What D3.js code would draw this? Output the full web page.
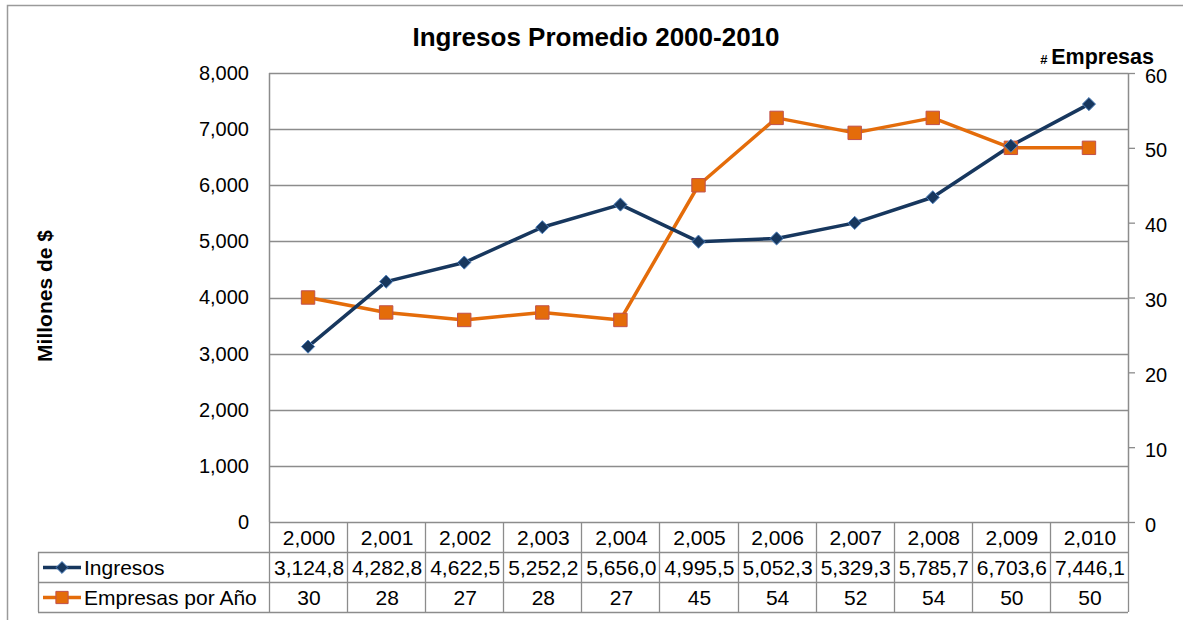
<!DOCTYPE html>
<html>
<head>
<meta charset="utf-8">
<script src="https://cdn.jsdelivr.net/npm/d3@7"></script>
<style>
  body { margin: 0; background: #fff; }
  text { font-family: "Liberation Sans", Arial, sans-serif; fill: #000; }
</style>
</head>
<body>
<div id="chart"></div>
<script>
// data
var years = ["2,000", "2,001", "2,002", "2,003", "2,004", "2,005", "2,006", "2,007", "2,008", "2,009", "2,010"];
var ingresos = [3124.8, 4282.8, 4622.5, 5252.2, 5656.0, 4995.5, 5052.3, 5329.3, 5785.7, 6703.6, 7446.1];
var ingresosLabels = ["3,124,8", "4,282,8", "4,622,5", "5,252,2", "5,656,0", "4,995,5", "5,052,3", "5,329,3", "5,785,7", "6,703,6", "7,446,1"];
var empresas = [30, 28, 27, 28, 27, 45, 54, 52, 54, 50, 50];
var leftTicks = [0, 1000, 2000, 3000, 4000, 5000, 6000, 7000, 8000];
var rightTicks = [0, 10, 20, 30, 40, 50, 60];

var svgWidth = 1183;
var svgHeight = 620;

var margin = { top: 73, right: 55, bottom: 98, left: 269 };
var width = svgWidth - margin.left - margin.right;   // 859
var height = svgHeight - margin.top - margin.bottom; // 449
var rowH = 30;
var gridColor = "#8c8c8c";
var navy = "#17375e";
var orange = "#e46c0a";
var fontSize = "21px";

var svg = d3.select("#chart")
  .append("svg")
  .attr("width", svgWidth)
  .attr("height", svgHeight);

// outer chart frame (runs off the page to the right / bottom)
svg.append("rect")
  .attr("x", 7.5).attr("y", 5.5)
  .attr("width", 1300).attr("height", 800)
  .attr("fill", "none")
  .attr("stroke", "#9a9a9a")
  .attr("stroke-width", 1.5);

var chartGroup = svg.append("g")
  .attr("transform", `translate(${margin.left}, ${margin.top})`);

// scales
var xBand = d3.scaleBand().domain(years).range([0, width]);
var yLeft = d3.scaleLinear().domain([0, 8000]).range([height, 0]);
var yRight = d3.scaleLinear().domain([0, 60]).range([height, 0]);
var xc = (d, i) => xBand(years[i]) + xBand.bandwidth() / 2;

// gridlines
chartGroup.append("g")
  .selectAll("line")
  .data(leftTicks)
  .enter()
  .append("line")
  .attr("x1", 0).attr("x2", width)
  .attr("y1", d => Math.round(yLeft(d)) + 0.5)
  .attr("y2", d => Math.round(yLeft(d)) + 0.5)
  .attr("stroke", gridColor)
  .attr("stroke-width", 1.3);

// left axis: labels only + axis line
var leftAxis = d3.axisLeft(yLeft)
  .tickValues(leftTicks)
  .tickFormat(d3.format(","))
  .tickSize(0)
  .tickPadding(20);
var gl = chartGroup.append("g").call(leftAxis);
gl.select(".domain").remove();
gl.selectAll("text")
  .style("font-size", "20px")
  .style("font-family", "Liberation Sans, Arial, sans-serif");

chartGroup.append("line")
  .attr("x1", 0.5).attr("x2", 0.5)
  .attr("y1", 0).attr("y2", height)
  .attr("stroke", gridColor).attr("stroke-width", 1.5);

// right axis with outer ticks
var rightAxis = d3.axisRight(yRight)
  .tickValues(rightTicks)
  .tickSize(7)
  .tickPadding(10);
var gr = chartGroup.append("g")
  .attr("transform", `translate(${width}, 0)`)
  .call(rightAxis);
gr.select(".domain").attr("stroke", gridColor).attr("stroke-width", 1.5).attr("d", `M0.5,0V${height}`);
gr.selectAll(".tick line").attr("stroke", gridColor).attr("stroke-width", 1.3);
gr.selectAll("text")
  .style("font-size", "20px")
  .style("font-family", "Liberation Sans, Arial, sans-serif")
  .attr("dy", "0.45em");

// data table below the plot
var table = chartGroup.append("g").attr("transform", `translate(0, ${height})`);
var legendLeft = 38 - margin.left;

// horizontal rules
[rowH, rowH * 2, rowH * 3].forEach(function(y) {
  table.append("line")
    .attr("x1", legendLeft).attr("x2", width)
    .attr("y1", y + 0.5).attr("y2", y + 0.5)
    .attr("stroke", gridColor).attr("stroke-width", 1.3);
});
// vertical rules
var colEdges = years.map(d => xBand(d)).concat([width]);
table.selectAll(".vrule")
  .data(colEdges)
  .enter()
  .append("line")
  .attr("x1", d => Math.round(d) + 0.5).attr("x2", d => Math.round(d) + 0.5)
  .attr("y1", 0).attr("y2", rowH * 3)
  .attr("stroke", gridColor).attr("stroke-width", 1.3);
table.append("line")
  .attr("x1", legendLeft + 0.5).attr("x2", legendLeft + 0.5)
  .attr("y1", rowH).attr("y2", rowH * 3)
  .attr("stroke", gridColor).attr("stroke-width", 1.3);

var rows = [years, ingresosLabels, empresas];
rows.forEach(function(row, r) {
  table.selectAll(".row" + r)
    .data(row)
    .enter()
    .append("text")
    .attr("x", (d, i) => xc(d, i) + 1)
    .attr("y", rowH * r + rowH / 2 + 1)
    .attr("dy", "0.35em")
    .attr("text-anchor", "middle")
    .style("font-size", fontSize)
    .text(d => d);
});

// legend keys
var keyX = legendLeft + 5;
var series = [
  { name: "Ingresos", color: navy, shape: d3.symbolDiamond2, fill: navy, stroke: "#4f81bd" },
  { name: "Empresas por Año", color: orange, shape: d3.symbolSquare, fill: orange, stroke: "#c0504d" }
];
series.forEach(function(s, i) {
  var cy = rowH * (i + 1) + rowH / 2 + 0.5;
  table.append("line")
    .attr("x1", keyX).attr("x2", keyX + 38)
    .attr("y1", cy).attr("y2", cy)
    .attr("stroke", s.color).attr("stroke-width", 3.5);
  table.append("path")
    .attr("d", d3.symbol().type(s.shape).size(i === 0 ? 90 : 150)())
    .attr("transform", `translate(${keyX + 19}, ${cy})`)
    .attr("fill", s.fill).attr("stroke", s.stroke).attr("stroke-width", 1);
  table.append("text")
    .attr("x", keyX + 41)
    .attr("y", cy)
    .attr("dy", "0.35em")
    .style("font-size", fontSize)
    .text(s.name);
});

// lines
var ingresosLine = d3.line()
  .x((d, i) => xc(d, i))
  .y(d => yLeft(d));
var empresasLine = d3.line()
  .x((d, i) => xc(d, i))
  .y(d => yRight(d));

chartGroup.append("path")
  .datum(empresas)
  .attr("d", empresasLine)
  .attr("fill", "none")
  .attr("stroke", orange)
  .attr("stroke-width", 3.5)
  .attr("stroke-linejoin", "round");

chartGroup.append("path")
  .datum(ingresos)
  .attr("d", ingresosLine)
  .attr("fill", "none")
  .attr("stroke", navy)
  .attr("stroke-width", 3.5)
  .attr("stroke-linejoin", "round");

// markers
chartGroup.selectAll(".sq")
  .data(empresas)
  .enter()
  .append("path")
  .attr("d", d3.symbol().type(d3.symbolSquare).size(180)())
  .attr("transform", (d, i) => `translate(${xc(d, i)}, ${yRight(d)})`)
  .attr("fill", orange)
  .attr("stroke", "#c0504d")
  .attr("stroke-width", 1);

chartGroup.selectAll(".dia")
  .data(ingresos)
  .enter()
  .append("path")
  .attr("d", d3.symbol().type(d3.symbolDiamond2).size(110)())
  .attr("transform", (d, i) => `translate(${xc(d, i)}, ${yLeft(d)})`)
  .attr("fill", navy)
  .attr("stroke", "#4f81bd")
  .attr("stroke-width", 1);

// titles
svg.append("text")
  .attr("x", 596)
  .attr("y", 46)
  .attr("text-anchor", "middle")
  .style("font-size", "26px")
  .style("font-weight", "bold")
  .text("Ingresos Promedio 2000-2010");

svg.append("text")
  .attr("transform", "translate(52, 296) rotate(-90)")
  .attr("text-anchor", "middle")
  .style("font-size", "21px")
  .style("font-weight", "bold")
  .text("Millones de $");

var rt = svg.append("text")
  .attr("x", 1154)
  .attr("y", 64)
  .attr("text-anchor", "end")
  .style("font-weight", "bold");
rt.append("tspan").style("font-size", "13px").text("# ");
rt.append("tspan").style("font-size", "21.5px").text("Empresas");
</script>
</body>
</html>
